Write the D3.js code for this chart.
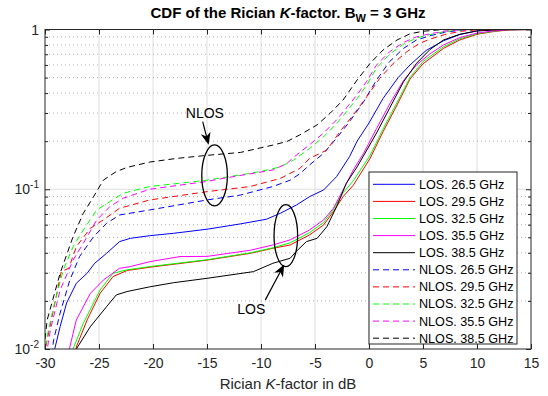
<!DOCTYPE html>
<html>
<head>
<meta charset="utf-8">
<script src="https://cdn.jsdelivr.net/npm/d3@7/dist/d3.min.js"></script>
<style>
body { margin: 0; background: #fff; }
svg { font-family: "Liberation Sans", Arial, Helvetica, sans-serif; }
</style>
</head>
<body>
<script>
// Axis ticks
var xTicks = [-30, -25, -20, -15, -10, -5, 0, 5, 10, 15];
var yTicks = [0.01, 0.1, 1];
var yTickLabels = [["10", "-2"], ["10", "-1"], ["1", ""]];

// CDF curves, [K-factor dB, probability]
var los265 = [[-29.4, 0.008], [-29.1, 0.01], [-28.6, 0.0138], [-28.0, 0.0194], [-27.1, 0.0258], [-26.1, 0.0298], [-25.4, 0.0344], [-24.3, 0.0397], [-23.1, 0.047], [-22.1, 0.0493], [-20.3, 0.0512], [-18.1, 0.053], [-15.0, 0.0562], [-11.9, 0.0607], [-9.5, 0.0649], [-8.2, 0.0708], [-6.7, 0.0798], [-5.5, 0.0899], [-4.2, 0.099], [-3.0, 0.12], [-1.8, 0.16], [-1.1, 0.2], [0, 0.26], [1.3, 0.37], [2.7, 0.5], [3.8, 0.6], [5.3, 0.74], [6.9, 0.85], [8.4, 0.93], [10, 0.98], [12, 0.997], [15, 1]];
var los295 = [[-27.3, 0.008], [-27.1, 0.0103], [-26.1, 0.0152], [-24.9, 0.0223], [-23.7, 0.0284], [-22.4, 0.031], [-20.3, 0.0325], [-15.0, 0.036], [-11.0, 0.0397], [-8.9, 0.0427], [-7.3, 0.0448], [-5.5, 0.0518], [-4.2, 0.0598], [-3.3, 0.0724], [-2.4, 0.09], [-1.45, 0.106], [0.1, 0.156], [1.3, 0.229], [2.6, 0.337], [3.8, 0.49], [5.0, 0.61], [6.9, 0.762], [8.4, 0.86], [10, 0.933], [11.5, 0.97], [13, 0.995], [15, 1]];
var los325 = [[-27.6, 0.008], [-27.4, 0.01], [-26.45, 0.0145], [-24.9, 0.0234], [-23.7, 0.0298], [-22.4, 0.0313], [-20.3, 0.0328], [-15.0, 0.0362], [-11.0, 0.04], [-8.9, 0.043], [-7.3, 0.0462], [-5.5, 0.0535], [-4.2, 0.062], [-3.3, 0.0745], [-2.4, 0.095], [-1.45, 0.113], [0.1, 0.163], [1.3, 0.238], [2.6, 0.35], [3.8, 0.5], [5.0, 0.63], [6.9, 0.78], [8.4, 0.875], [10, 0.94], [11.5, 0.975], [13, 0.996], [15, 1]];
var los355 = [[-28.0, 0.008], [-27.7, 0.0103], [-27.1, 0.0152], [-25.8, 0.0223], [-24.6, 0.027], [-23.1, 0.032], [-22.1, 0.0328], [-20.3, 0.0352], [-17.5, 0.0379], [-15.0, 0.038], [-11.0, 0.0415], [-8.9, 0.0448], [-7.3, 0.0482], [-5.5, 0.0556], [-4.2, 0.0643], [-3.3, 0.076], [-2.4, 0.099], [-1.45, 0.132], [-0.5, 0.168], [0.7, 0.24], [2.0, 0.35], [3.2, 0.48], [4.4, 0.6], [5.6, 0.7], [6.9, 0.8], [8.4, 0.89], [10, 0.95], [11.5, 0.98], [13, 0.997], [15, 1]];
var los385 = [[-27.3, 0.008], [-27.1, 0.01], [-25.8, 0.0138], [-24.3, 0.0184], [-23.4, 0.0218], [-22.4, 0.0229], [-20.3, 0.0245], [-18.1, 0.026], [-15.0, 0.0277], [-10.7, 0.0305], [-8.9, 0.0344], [-7.3, 0.037], [-6.7, 0.041], [-5.8, 0.047], [-4.8, 0.0493], [-3.9, 0.0583], [-3.0, 0.0778], [-2.1, 0.109], [-1.1, 0.138], [-0.2, 0.176], [0.7, 0.225], [1.9, 0.321], [3.2, 0.471], [4.4, 0.614], [5.65, 0.75], [6.9, 0.86], [8.4, 0.933], [10, 0.98], [12, 0.997], [15, 1]];
var nlos265 = [[-29.5, 0.008], [-29.2, 0.0114], [-28.6, 0.0168], [-27.7, 0.027], [-26.8, 0.0379], [-25.5, 0.0505], [-24.3, 0.0612], [-23.1, 0.069], [-20.3, 0.0742], [-15.0, 0.0857], [-11.9, 0.092], [-8.9, 0.104], [-7.3, 0.114], [-6.4, 0.125], [-5.5, 0.142], [-4.2, 0.168], [-3.0, 0.209], [-1.8, 0.265], [-0.5, 0.353], [0.7, 0.483], [1.9, 0.629], [3.2, 0.762], [4.4, 0.86], [5.65, 0.914], [7, 0.96], [8.5, 0.99], [10, 1], [15, 1]];
var nlos295 = [[-30.1, 0.009], [-29.8, 0.0114], [-28.9, 0.0223], [-28.5, 0.0305], [-27.8, 0.032], [-27.1, 0.0437], [-25.8, 0.057], [-24.6, 0.0643], [-23.1, 0.076], [-20.3, 0.0857], [-15.0, 0.0966], [-11.0, 0.104], [-8.2, 0.117], [-6.4, 0.135], [-5.5, 0.156], [-3.9, 0.176], [-2.7, 0.229], [-1.45, 0.292], [-0.2, 0.38], [1.0, 0.495], [2.25, 0.614], [3.5, 0.726], [4.7, 0.82], [5.65, 0.87], [7, 0.93], [8.5, 0.975], [10, 0.995], [15, 1]];
var nlos325 = [[-30.1, 0.009], [-29.8, 0.012], [-29.2, 0.0184], [-28.3, 0.0313], [-27.4, 0.0437], [-26.45, 0.0556], [-25.2, 0.0742], [-24.0, 0.0836], [-22.75, 0.0944], [-20.3, 0.104], [-15.0, 0.114], [-11.9, 0.123], [-10.1, 0.129], [-8.2, 0.138], [-7.0, 0.152], [-5.5, 0.18], [-4.2, 0.213], [-3.0, 0.258], [-2.1, 0.305], [-1.1, 0.37], [-0.2, 0.45], [0.7, 0.575], [1.9, 0.7], [3.2, 0.81], [4.4, 0.885], [5.65, 0.93], [7, 0.97], [8.5, 0.995], [10, 1], [15, 1]];
var nlos355 = [[-29.9, 0.009], [-29.5, 0.0132], [-28.6, 0.0234], [-27.4, 0.036], [-26.45, 0.0459], [-25.2, 0.0643], [-24.0, 0.0778], [-22.75, 0.0879], [-20.3, 0.1], [-15.0, 0.112], [-13.5, 0.117], [-8.9, 0.132], [-7.6, 0.145], [-7.0, 0.158], [-5.5, 0.19], [-4.2, 0.225], [-3.0, 0.272], [-2.1, 0.322], [-1.1, 0.39], [-0.2, 0.475], [0.7, 0.6], [1.9, 0.725], [3.2, 0.83], [4.4, 0.9], [5.65, 0.94], [7, 0.975], [8.5, 0.996], [10, 1], [15, 1]];
var nlos385 = [[-30.1, 0.01], [-29.8, 0.0152], [-28.6, 0.0298], [-27.4, 0.0505], [-26.45, 0.0708], [-25.5, 0.0899], [-24.6, 0.114], [-23.4, 0.129], [-22.4, 0.137], [-20.3, 0.148], [-17.8, 0.156], [-15.0, 0.163], [-11.9, 0.17], [-8.9, 0.189], [-7.6, 0.199], [-6.4, 0.219], [-4.8, 0.253], [-3.6, 0.299], [-2.4, 0.362], [-1.1, 0.483], [0.1, 0.614], [1.3, 0.744], [2.6, 0.86], [3.8, 0.94], [5.0, 0.975], [6.5, 0.995], [8, 1], [15, 1]];

var seriesNames = ["LOS. 26.5 GHz", "LOS. 29.5 GHz", "LOS. 32.5 GHz", "LOS. 35.5 GHz", "LOS. 38.5 GHz",
                   "NLOS. 26.5 GHz", "NLOS. 29.5 GHz", "NLOS. 32.5 GHz", "NLOS. 35.5 GHz", "NLOS. 38.5 GHz"];
var seriesData = [los265, los295, los325, los355, los385, nlos265, nlos295, nlos325, nlos355, nlos385];
var seriesColors = ["#0000ff", "#ff0000", "#00ff00", "#ff00ff", "#000000",
                    "#0000ff", "#ff0000", "#00ff00", "#ff00ff", "#000000"];
var seriesDashed = [false, false, false, false, false, true, true, true, true, true];

var W = 548, H = 396;
var margin = {top: 29.5, right: 17, bottom: 47, left: 45},
    width = W - margin.left - margin.right,
    height = H - margin.top - margin.bottom;
var ink = "#262626";

var x = d3.scaleLinear().domain([-30, 15]).range([0, width]);
var y = d3.scaleLog().domain([0.01, 1]).range([height, 0]);

var svg = d3.select("body").append("svg")
    .attr("width", W)
    .attr("height", H);

var g = svg.append("g")
    .attr("transform", "translate(" + margin.left + "," + margin.top + ")");

g.append("rect").attr("width", width).attr("height", height).attr("fill", "#fff");

// minor values 2..9 per decade
var minor = [];
[0.01, 0.1].forEach(function(d) {
  for (var k = 2; k <= 9; k++) minor.push(d * k);
});

// Grid
g.append("g").selectAll("line")
    .data(xTicks.slice(1, -1))
    .enter().append("line")
      .attr("x1", function(d) { return x(d); })
      .attr("x2", function(d) { return x(d); })
      .attr("y1", 0).attr("y2", height)
      .attr("stroke", "#dedede").attr("stroke-width", 1);

g.append("g").selectAll("line")
    .data(minor)
    .enter().append("line")
      .attr("x1", 0).attr("x2", width)
      .attr("y1", function(d) { return y(d); })
      .attr("y2", function(d) { return y(d); })
      .attr("stroke", "#b5b5b5").attr("stroke-width", 1)
      .attr("stroke-dasharray", "1,3");

g.append("line")
    .attr("x1", 0).attr("x2", width)
    .attr("y1", y(0.1)).attr("y2", y(0.1))
    .attr("stroke", "#dedede").attr("stroke-width", 1);

// Curves
g.append("clipPath").attr("id", "clip")
  .append("rect").attr("width", width).attr("height", height);

var line = d3.line()
    .x(function(d) { return x(d[0]); })
    .y(function(d) { return y(d[1]); });

g.append("g").attr("clip-path", "url(#clip)")
  .selectAll("path")
    .data(seriesData)
    .enter().append("path")
      .attr("d", line)
      .attr("fill", "none")
      .attr("stroke", function(d, i) { return seriesColors[i]; })
      .attr("stroke-width", 1)
      .attr("stroke-dasharray", function(d, i) { return seriesDashed[i] ? "6,4" : null; });

// Axes, ticks point inward
var xAxis = d3.axisBottom(x).tickValues(xTicks).tickSizeInner(-5).tickSizeOuter(0).tickPadding(9);
var xAxisTop = d3.axisTop(x).tickValues(xTicks).tickSizeInner(-5).tickSizeOuter(0).tickFormat("");
var yAxis = d3.axisLeft(y).tickValues(yTicks).tickSizeInner(-5).tickSizeOuter(0).tickFormat("");
var yAxisMinor = d3.axisLeft(y).tickValues(minor).tickSizeInner(-3).tickSizeOuter(0).tickFormat("");
var yAxisR = d3.axisRight(y).tickValues(yTicks).tickSizeInner(-5).tickSizeOuter(0).tickFormat("");
var yAxisRMinor = d3.axisRight(y).tickValues(minor).tickSizeInner(-3).tickSizeOuter(0).tickFormat("");

g.append("g").attr("class", "x-axis").attr("transform", "translate(0," + height + ")").call(xAxis);
g.append("g").call(xAxisTop);
g.append("g").attr("class", "y-axis").call(yAxis);
g.append("g").call(yAxisMinor);
g.append("g").attr("transform", "translate(" + width + ",0)").call(yAxisR);
g.append("g").attr("transform", "translate(" + width + ",0)").call(yAxisRMinor);

g.selectAll(".domain").remove();
g.selectAll(".tick line").attr("stroke", ink);
g.select(".x-axis").selectAll("text")
    .attr("fill", ink).style("font-size", "14px")
    .text(function(d) { return d < 0 ? "-" + Math.abs(d) : d; });

g.append("rect")
    .attr("width", width).attr("height", height)
    .attr("fill", "none").attr("stroke", ink).attr("stroke-width", 1);

// y tick labels with exponents
var ylab = g.append("g").selectAll("text")
    .data(yTicks)
    .enter().append("text")
      .attr("x", -6)
      .attr("y", function(d) { return y(d) + 5; })
      .attr("text-anchor", "end")
      .attr("fill", ink)
      .style("font-size", "14px");
ylab.append("tspan").text(function(d, i) { return yTickLabels[i][0]; });
ylab.append("tspan")
    .attr("dy", -6)
    .style("font-size", "10px")
    .text(function(d, i) { return yTickLabels[i][1]; });

// Title
var title = svg.append("text")
    .attr("x", margin.left + width / 2)
    .attr("y", 18)
    .attr("text-anchor", "middle")
    .attr("fill", "#000")
    .style("font-size", "15px")
    .style("font-weight", "bold");
title.append("tspan").text("CDF of the Rician ");
title.append("tspan").style("font-style", "italic").text("K");
title.append("tspan").text("-factor. B");
title.append("tspan").attr("dy", 4).style("font-size", "11px").text("W");
title.append("tspan").attr("dy", -4).text(" = 3 GHz");

// X label
var xl = svg.append("text")
    .attr("x", margin.left + width / 2)
    .attr("y", 389)
    .attr("text-anchor", "middle")
    .attr("fill", ink)
    .style("font-size", "15px");
xl.append("tspan").text("Rician ");
xl.append("tspan").style("font-style", "italic").text("K");
xl.append("tspan").text("-factor in dB");

// Annotations: ellipses, labels, arrows
function ellipse(cx, cy, rx, ry) {
  g.append("ellipse")
      .attr("cx", x(cx)).attr("cy", y(cy))
      .attr("rx", rx).attr("ry", ry)
      .attr("fill", "none").attr("stroke", "#000").attr("stroke-width", 1.3);
}
function arrow(x0, y0, x1, y1) {
  var ax = x(x0), ay = y(y0), bx = x(x1), by = y(y1);
  var dx = bx - ax, dy = by - ay, len = Math.sqrt(dx * dx + dy * dy);
  var ux = dx / len, uy = dy / len, nx = -uy, ny = ux;
  var L = 12, w = 5;
  g.append("line")
      .attr("x1", ax).attr("y1", ay)
      .attr("x2", bx - ux * 6).attr("y2", by - uy * 6)
      .attr("stroke", "#000").attr("stroke-width", 1.2);
  var pts = [[bx, by],
             [bx - L * ux + w * nx, by - L * uy + w * ny],
             [bx - 0.7 * L * ux, by - 0.7 * L * uy],
             [bx - L * ux - w * nx, by - L * uy - w * ny]];
  g.append("path")
      .attr("d", "M" + pts.join("L") + "Z")
      .attr("fill", "#000");
}
function label(cx, cy, txt) {
  g.append("text")
      .attr("x", x(cx)).attr("y", y(cy))
      .attr("dy", "0.35em")
      .attr("text-anchor", "middle")
      .attr("fill", "#000")
      .style("font-size", "14px")
      .text(txt);
}

ellipse(-14.3, 0.122, 12.8, 30.5);
ellipse(-7.7, 0.0512, 11.8, 31);
label(-15.2, 0.3, "NLOS");
label(-10.9, 0.0177, "LOS");
arrow(-15.4, 0.265, -14.85, 0.19);
arrow(-9.6, 0.0203, -7.85, 0.0338);

// Legend
var lx = 369, ly = 172, lw = 148, lh = 172, rowH = 17.1;
svg.append("rect")
    .attr("x", lx).attr("y", ly).attr("width", lw).attr("height", lh)
    .attr("fill", "#fff").attr("stroke", ink).attr("stroke-width", 1);

var legend = svg.selectAll(".legend")
    .data(seriesNames)
    .enter().append("g")
      .attr("class", "legend")
      .attr("transform", function(d, i) { return "translate(" + lx + "," + (ly + 12.3 + i * rowH) + ")"; });

legend.append("line")
    .attr("x1", 4).attr("x2", 46)
    .attr("stroke", function(d, i) { return seriesColors[i]; })
    .attr("stroke-width", 1)
    .attr("stroke-dasharray", function(d, i) { return seriesDashed[i] ? "6,4" : null; });

legend.append("text")
    .attr("x", 50)
    .attr("dy", "0.35em")
    .attr("fill", "#000")
    .style("font-size", "12.6px")
    .text(function(d) { return d; });
</script>
</body>
</html>
